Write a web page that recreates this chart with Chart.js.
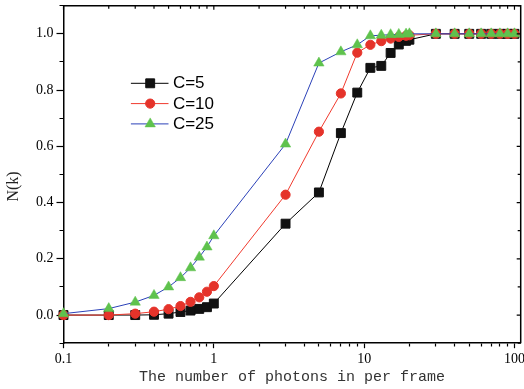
<!DOCTYPE html>
<html><head><meta charset="utf-8">
<script src="https://cdn.jsdelivr.net/npm/chart.js@4/dist/chart.umd.min.js"></script>
<style>html,body{margin:0;padding:0;background:#fff;}canvas{display:block;}</style>
</head><body>
<canvas id="c" width="524" height="389"></canvas>
<script>
// ---- data ----
const photons = [0.1,0.2,0.3,0.4,0.5,0.6,0.7,0.8,0.9,1,3,5,7,9,11,13,15,17,19,20,30,40,50,60,70,80,90,100];
const nC5  = [0,0,0,0.001,0.005,0.011,0.016,0.022,0.028,0.041,0.325,0.436,0.647,0.791,0.879,0.886,0.932,0.962,0.975,0.979,1,1,1,1,1,1,1,1];
const nC10 = [0,0,0.005,0.012,0.021,0.032,0.047,0.063,0.083,0.103,0.428,0.652,0.788,0.933,0.961,0.974,0.983,0.989,0.993,0.995,1,1,1,1,1,1,1,1];
const nC25 = [0.005,0.023,0.046,0.07,0.10,0.133,0.168,0.206,0.242,0.282,0.608,0.896,0.936,0.961,0.993,0.995,0.997,0.998,0.999,1,1,1,1,1,1,1,1,1];
const seriesNames = ['C=5','C=10','C=25'];
const xTickLabels = ['0.1','1','10','100'];
const yTickLabels = ['0.0','0.2','0.4','0.6','0.8','1.0'];
const xAxisTitle = 'The number of photons in per frame';
const yAxisTitle = 'N(k)';

// tick positions (log minor ticks and 0.1 steps)
const xTickValues = [];
for (let e = -1; e <= 1; e++) for (let m = 1; m <= 9; m++) xTickValues.push(+(m * Math.pow(10, e)).toPrecision(6));
xTickValues.push(100);
const yTickValues = [];
for (let k = -1; k <= 11; k++) yTickValues.push(k / 10);

const near = (a, b) => Math.abs(a - b) < 1e-6 * Math.max(1, Math.abs(b));
const xLabelFor = v => { const l = xTickLabels.find(s => near(v, parseFloat(s))); return l === undefined ? '' : l; };
const yLabelFor = v => { const l = yTickLabels.find(s => near(v, parseFloat(s))); return l === undefined ? '' : l; };

const pts = arr => photons.map((x, i) => ({x: x, y: arr[i]}));

// mirror frame (top/right) with inward ticks, positioned by the library's scales
const framePlugin = {
  id: 'frame',
  afterDraw(chart) {
    const {ctx, chartArea: a, scales} = chart;
    ctx.save();
    ctx.strokeStyle = '#000';
    ctx.lineWidth = 1.5;
    ctx.beginPath();
    ctx.moveTo(a.left, a.top); ctx.lineTo(a.right, a.top); ctx.lineTo(a.right, a.bottom);
    ctx.stroke();
    ctx.lineWidth = 1.2;
    ctx.beginPath();
    scales.x.ticks.forEach(t => {
      const px = scales.x.getPixelForValue(t.value);
      const len = xLabelFor(t.value) ? 4 : 3;
      ctx.moveTo(px, a.top); ctx.lineTo(px, a.top + len);
    });
    scales.y.ticks.forEach(t => {
      const py = scales.y.getPixelForValue(t.value);
      const len = yLabelFor(t.value) ? 4 : 3;
      ctx.moveTo(a.right, py); ctx.lineTo(a.right - len, py);
    });
    ctx.stroke();
    ctx.restore();
  }
};

// inset legend
const legendPlugin = {
  id: 'insetLegend',
  afterDraw(chart) {
    const {ctx, chartArea: a} = chart;
    const x0 = a.left + 67.4, y0 = a.top + 77.6, dy = 20.3;
    chart.data.datasets.forEach((ds, i) => {
      const y = y0 + i * dy;
      ctx.save();
      ctx.strokeStyle = ds.borderColor;
      ctx.lineWidth = ds.borderWidth;
      ctx.beginPath(); ctx.moveTo(x0, y); ctx.lineTo(x0 + 37.6, y); ctx.stroke();
      ctx.fillStyle = ds.pointBackgroundColor;
      ctx.strokeStyle = ds.pointBorderColor;
      ctx.lineWidth = ds.pointBorderWidth;
      Chart.helpers.drawPoint(ctx, {pointStyle: ds.pointStyle, radius: ds.pointRadius, borderWidth: ds.pointBorderWidth, rotation: 0}, x0 + 19.3, y);
      ctx.fillStyle = '#000';
      ctx.font = '17px "Liberation Sans", Arial, sans-serif';
      ctx.textBaseline = 'middle';
      ctx.textAlign = 'left';
      ctx.fillText(ds.label, x0 + 42, y + 0.5);
      ctx.restore();
    });
  }
};

new Chart(document.getElementById('c'), {
  type: 'line',
  data: {
    datasets: [
      {label: seriesNames[0], data: pts(nC5), borderColor: '#000', borderWidth: 1, clip: false,
       pointStyle: 'rect', pointRadius: 6.3, pointBackgroundColor: '#111', pointBorderColor: '#111', pointBorderWidth: 1, order: 2},
      {label: seriesNames[1], data: pts(nC10), borderColor: '#f03a2e', borderWidth: 1, clip: false,
       pointStyle: 'circle', pointRadius: 4.6, pointBackgroundColor: '#e5332a', pointBorderColor: '#e5332a', pointBorderWidth: 1, order: 1},
      {label: seriesNames[2], data: pts(nC25), borderColor: '#2b41b8', borderWidth: 1, clip: false,
       pointStyle: 'triangle', pointRadius: 6, pointBackgroundColor: '#5fc24d', pointBorderColor: '#5fc24d', pointBorderWidth: 0.5, order: 0}
    ]
  },
  options: {
    responsive: false,
    animation: false,
    events: [],
    layout: {autoPadding: false, padding: {left: 4.4, right: 3.3, top: 5.7, bottom: 3}},
    elements: {line: {tension: 0}},
    plugins: {legend: {display: false}, tooltip: {enabled: false}},
    scales: {
      x: {
        type: 'logarithmic', min: 0.1, max: 110,
        afterBuildTicks: s => { s.ticks = xTickValues.map(v => ({value: v})); },
        afterFit: s => { s.paddingRight = 0; s.paddingLeft = 0; },
        ticks: {autoSkip: false, maxRotation: 0, minRotation: 0, padding: 3, color: '#000',
                font: {family: 'Liberation Serif', size: 14},
                callback: v => xLabelFor(v)},
        grid: {display: true, drawOnChartArea: false, drawTicks: true, tickLength: 5, tickWidth: 1.2, tickColor: '#000',
               tickBorderDash: c => (c.tick && xLabelFor(c.tick.value)) ? [] : [3, 100]},
        border: {display: true, color: '#000', width: 1.5},
        title: {display: true, text: xAxisTitle, color: '#333',
                font: {family: 'Liberation Mono', size: 15}, padding: {top: -3, bottom: 0}}
      },
      y: {
        type: 'linear', min: -0.1, max: 1.1,
        afterBuildTicks: s => { s.ticks = yTickValues.map(v => ({value: v})); },
        afterFit: s => { s.paddingTop = 0; s.paddingBottom = 0; },
        ticks: {autoSkip: false, padding: 3, color: '#000',
                font: {family: 'Liberation Serif', size: 14},
                callback: v => yLabelFor(v)},
        grid: {display: true, drawOnChartArea: false, drawTicks: true, tickLength: 7, tickWidth: 1.2, tickColor: '#000',
               tickBorderDash: c => (c.tick && yLabelFor(c.tick.value)) ? [] : [0, 3, 4, 100]},
        border: {display: true, color: '#000', width: 1.5},
        title: {display: true, text: yAxisTitle + '      ', color: '#222',
                font: {family: 'Liberation Serif', size: 16}, padding: {top: 0, bottom: 9.4}}
      }
    }
  },
  plugins: [framePlugin, legendPlugin]
});
</script>
</body></html>
